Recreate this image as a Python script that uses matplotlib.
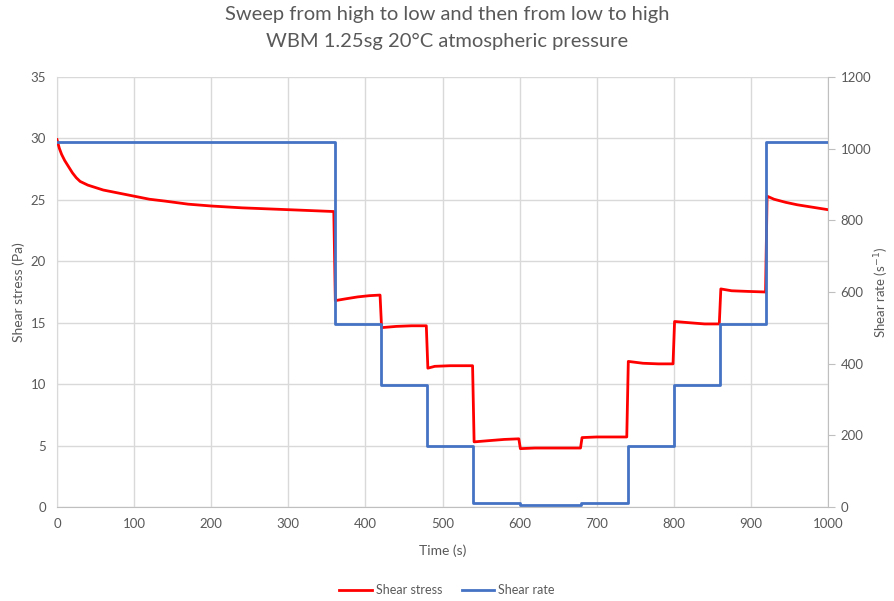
import matplotlib.pyplot as plt

## --data
rate_time = [0, 360, 360, 420, 420, 480, 480, 540, 540, 600, 600, 680, 680, 740,
             740, 800, 800, 860, 860, 920, 920, 1000]
rate_vals = [1020, 1020, 510, 510, 340, 340, 170, 170, 10.2, 10.2, 5.1, 5.1, 10.2, 10.2,
             170, 170, 340, 340, 510, 510, 1020, 1020]

stress_time = [0, 3, 6, 10, 15, 20, 25, 30, 40, 50, 60, 80, 100, 120, 140, 170, 200,
               240, 280, 320, 359,
               361, 375, 390, 405, 419,
               421, 440, 460, 479,
               481, 490, 510, 539,
               541, 560, 580, 599,
               601, 620, 650, 679,
               681, 700, 720, 739,
               741, 760, 780, 799,
               801, 820, 840, 859,
               861, 875, 895, 919,
               921, 930, 945, 960, 980, 1000]
stress_vals = [29.9, 29.2, 28.7, 28.2, 27.7, 27.2, 26.8, 26.5, 26.2, 26.0, 25.8, 25.55, 25.3,
               25.05, 24.9, 24.65, 24.5, 24.35, 24.25, 24.15, 24.05,
               16.8, 16.95, 17.1, 17.2, 17.25,
               14.6, 14.7, 14.75, 14.75,
               11.3, 11.45, 11.5, 11.5,
               5.3, 5.4, 5.5, 5.55,
               4.75, 4.8, 4.8, 4.8,
               5.65, 5.7, 5.7, 5.7,
               11.85, 11.7, 11.65, 11.65,
               15.1, 15.0, 14.9, 14.9,
               17.75, 17.6, 17.55, 17.5,
               25.3, 25.05, 24.8, 24.6, 24.4, 24.2]

## --style
font = ['Lato', 'DejaVu Sans']
plt.rcParams['font.family'] = font
grey = '#595959'
grid = '#D9D9D9'

fig = plt.figure(figsize=(8.94, 6.01), dpi=100)
ax = fig.add_axes([57/894, 1-507/601, (828-57)/894, (507-77)/601])
ax2 = ax.twinx()

l1, = ax.plot(stress_time, stress_vals, color='#FF0000', lw=2, label='Shear stress', zorder=3)
l2, = ax2.plot(rate_time, rate_vals, color='#4472C4', lw=2, label='Shear rate', zorder=3)

ax.set_xlim(0, 1000)
ax.set_ylim(0, 35)
ax2.set_ylim(0, 1200)
ax.set_xticks(range(0, 1001, 100))
ax.set_yticks(range(0, 36, 5))
ax2.set_yticks(range(0, 1201, 200))

ax.grid(True, color=grid, lw=1)
ax.set_axisbelow(True)
for a in (ax, ax2):
    for s in a.spines.values():
        s.set_visible(False)
ax.spines['left'].set_visible(True)
ax.spines['left'].set_color(grid)
ax.spines['bottom'].set_visible(True)
ax.spines['bottom'].set_color('#BFBFBF')
ax2.spines['right'].set_visible(True)
ax2.spines['right'].set_color('#BFBFBF')

ax.tick_params(axis='both', length=0, labelsize=9.5, labelcolor=grey, pad=8)
ax2.tick_params(axis='y', length=5, color='#BFBFBF', labelsize=9.5, labelcolor=grey, pad=4)

ax.set_xlabel('Time (s)', fontsize=10, color=grey, labelpad=10)
ax.set_ylabel('Shear stress (Pa)', fontsize=10, color=grey, labelpad=4)
ax2.set_ylabel('Shear rate (s$^{-1}$)', fontsize=9.5, color=grey, labelpad=1)

fig.text(0.5, 1-6/601,
         'Sweep from high to low and then from low to high\nWBM 1.25sg 20°C atmospheric pressure',
         ha='center', va='top', fontsize=14.5, color=grey, linespacing=1.7)

fig.legend(handles=[l1, l2], loc='center', bbox_to_anchor=(0.5, 1-590/601), ncol=2,
           frameon=False, fontsize=9, labelcolor=grey, handlelength=2.6, columnspacing=1.6,
           handletextpad=0.3)

fig.savefig('out.png', dpi=100)
